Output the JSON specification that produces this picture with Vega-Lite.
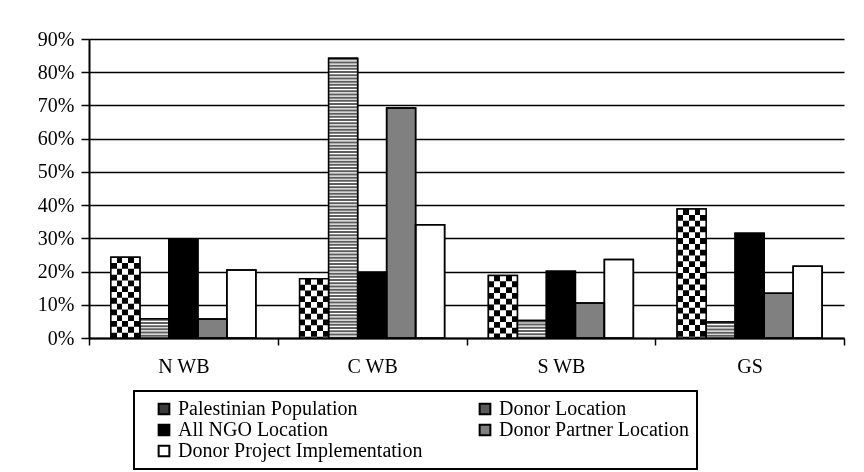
{
  "$schema": "https://vega.github.io/schema/vega-lite/v6.json",
  "width": 755,
  "height": 299,
  "autosize": {"type": "none"},
  "padding": {"left": 89, "top": 39, "right": 20, "bottom": 134},
  "background": "white",
  "config": {
    "view": {"stroke": null},
    "font": "Liberation Serif",
    "axis": {"labelFont": "Liberation Serif", "labelFontSize": 20, "labelColor": "black", "domainColor": "black", "domainWidth": 2, "tickColor": "black", "tickWidth": 1.5, "titleFont": "Liberation Serif"},
    "legend": {"labelFont": "Liberation Serif", "labelFontSize": 20, "labelColor": "black", "strokeColor": "black", "strokeWidth": 2}
  },
  "data": {
    "values": [
      {"region": "N WB", "series": "Palestinian Population", "value": 0.243},
      {"region": "N WB", "series": "Donor Location", "value": 0.058},
      {"region": "N WB", "series": "All NGO Location", "value": 0.296},
      {"region": "N WB", "series": "Donor Partner Location", "value": 0.057},
      {"region": "N WB", "series": "Donor Project Implementation", "value": 0.205},
      {"region": "C WB", "series": "Palestinian Population", "value": 0.178},
      {"region": "C WB", "series": "Donor Location", "value": 0.842},
      {"region": "C WB", "series": "All NGO Location", "value": 0.198},
      {"region": "C WB", "series": "Donor Partner Location", "value": 0.692},
      {"region": "C WB", "series": "Donor Project Implementation", "value": 0.341},
      {"region": "S WB", "series": "Palestinian Population", "value": 0.188},
      {"region": "S WB", "series": "Donor Location", "value": 0.053},
      {"region": "S WB", "series": "All NGO Location", "value": 0.201},
      {"region": "S WB", "series": "Donor Partner Location", "value": 0.105},
      {"region": "S WB", "series": "Donor Project Implementation", "value": 0.236},
      {"region": "GS", "series": "Palestinian Population", "value": 0.388},
      {"region": "GS", "series": "Donor Location", "value": 0.048},
      {"region": "GS", "series": "All NGO Location", "value": 0.315},
      {"region": "GS", "series": "Donor Partner Location", "value": 0.135},
      {"region": "GS", "series": "Donor Project Implementation", "value": 0.216}
    ]
  },
  "encoding": {
    "x": {
      "field": "region", "type": "nominal",
      "scale": {"domain": ["N WB", "C WB", "S WB", "GS"], "paddingInner": 0, "paddingOuter": 0},
      "axis": {"title": null, "labelAngle": 0, "tickBand": "extent", "tickSize": 7, "labelPadding": 11, "grid": false}
    },
    "xOffset": {
      "field": "series", "type": "nominal",
      "scale": {"domain": ["Palestinian Population", "Donor Location", "All NGO Location", "Donor Partner Location", "Donor Project Implementation"], "paddingInner": 0, "paddingOuter": 0.755}
    },
    "y": {
      "field": "value", "type": "quantitative",
      "scale": {"domain": [0, 0.9], "nice": false},
      "axis": {"title": null, "format": ".0%", "values": [0, 0.1, 0.2, 0.3, 0.4, 0.5, 0.6, 0.7, 0.8, 0.9], "tickSize": 8, "labelPadding": 7, "grid": true, "gridColor": "black", "gridWidth": 1.3, "gridOpacity": 1}
    }
  },
  "layer": [
    {
      "mark": {"type": "bar", "stroke": "black", "strokeWidth": 1.5},
      "encoding": {
        "color": {
          "field": "series", "type": "nominal",
          "scale": {"domain": ["Palestinian Population", "Donor Location", "All NGO Location", "Donor Partner Location", "Donor Project Implementation"], "range": ["#3a3a3a", "#5a5a5a", "#000000", "#808080", "#ffffff"]},
          "legend": {
            "title": null, "orient": "none", "legendX": 45, "legendY": 352, "columns": 2, "direction": "horizontal",
            "symbolType": "square", "symbolSize": 115, "symbolStrokeColor": "black", "symbolStrokeWidth": 2,
            "symbolOffset": 12, "labelOffset": 4, "columnPadding": 40, "rowPadding": 1, "padding": 8,
            "gridAlign": "all", "labelLimit": 400
          }
        }
      }
    },
    {
      "transform": [{"filter": "datum.series === 'Palestinian Population' || datum.series === 'Donor Location'"}],
      "mark": {"type": "bar", "fill": "white"}
    },
    {
      "transform": [{"filter": "datum.series === 'Donor Location'"}],
      "mark": {"type": "rule", "stroke": "#5e5e5e", "strokeWidth": 29, "strokeDash": [2, 1.2]},
      "encoding": {"y2": {"datum": 0}}
    },
    {
      "transform": [{"filter": "datum.series === 'Palestinian Population'"}],
      "mark": {"type": "rule", "stroke": "black", "strokeWidth": 29, "strokeDash": [5.8, 5.8]},
      "encoding": {"y2": {"datum": 0}}
    },
    {
      "transform": [{"filter": "datum.series === 'Palestinian Population'"}],
      "mark": {
        "type": "bar", "blend": "difference",
        "fill": {"gradient": "linear", "x1": 0, "y1": 0, "x2": 1, "y2": 0, "stops": [
          {"offset": 0, "color": "white"}, {"offset": 0.2, "color": "white"},
          {"offset": 0.2, "color": "black"}, {"offset": 0.4, "color": "black"},
          {"offset": 0.4, "color": "white"}, {"offset": 0.6, "color": "white"},
          {"offset": 0.6, "color": "black"}, {"offset": 0.8, "color": "black"},
          {"offset": 0.8, "color": "white"}, {"offset": 1, "color": "white"}
        ]}
      }
    },
    {
      "mark": {"type": "bar", "filled": false, "stroke": "black", "strokeWidth": 1.5}
    }
  ]
}
